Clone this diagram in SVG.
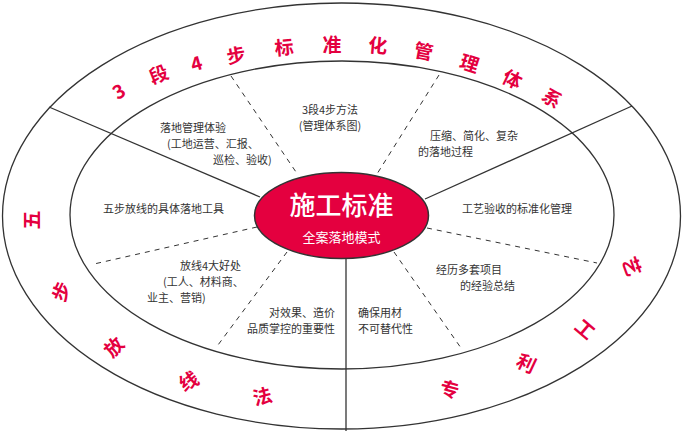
<svg xmlns="http://www.w3.org/2000/svg" width="683" height="431" viewBox="0 0 683 431">
<style>
.ln{stroke:#333;stroke-width:1.3;fill:none}
.ds{stroke:#333;stroke-width:1;fill:none;stroke-dasharray:5 5}
.t{font-family:"Noto Sans CJK SC","Noto Sans",sans-serif;font-size:11px;fill:#333}
.p{font-family:"Noto Sans CJK SC","Noto Sans",sans-serif;font-size:19px;font-weight:bold;fill:#e4003f;text-anchor:middle;dominant-baseline:central}
</style>
<rect width="683" height="431" fill="#fff"/>
<g id="rings">
<ellipse class="ln" cx="341.5" cy="216" rx="339" ry="213"/>
<ellipse class="ln" cx="342" cy="215" rx="272" ry="154"/>
</g>
<g id="connectors">
<line class="ln" x1="49" y1="107" x2="260" y2="197"/>
<line class="ln" x1="632" y1="106" x2="425" y2="199"/>
<line class="ln" x1="346" y1="259" x2="346" y2="431"/>
<line class="ds" x1="231" y1="76" x2="296" y2="172"/>
<line class="ds" x1="439" y1="75" x2="377" y2="174"/>
<line class="ds" x1="257" y1="227" x2="94" y2="264"/>
<line class="ds" x1="427" y1="228" x2="597" y2="263"/>
<line class="ds" x1="287" y1="252" x2="218" y2="345"/>
<line class="ds" x1="394" y1="252" x2="461" y2="348"/>
</g>
<g id="center">
<ellipse cx="341.5" cy="215.5" rx="87" ry="43" fill="#e4003f" stroke="#333" stroke-width="1.5"/>
<text x="341.5" y="215" font-family="'Noto Sans CJK SC',sans-serif" font-size="26" font-weight="500" fill="#fff" text-anchor="middle">施工标准</text>
<text x="341.5" y="242" font-family="'Noto Sans CJK SC',sans-serif" font-size="13" fill="#fff" text-anchor="middle">全案落地模式</text>
</g>
<g id="labels">
<text class="t" x="330" y="114" text-anchor="middle">3段4步方法</text>
<text class="t" x="330" y="130" text-anchor="middle">(管理体系图)</text>
<text class="t" x="160" y="132">落地管理体验</text>
<text class="t" x="167" y="148">(工地运营、汇报、</text>
<text class="t" x="213" y="164">巡检、验收)</text>
<text class="t" x="430" y="140">压缩、简化、复杂</text>
<text class="t" x="418" y="156">的落地过程</text>
<text class="t" x="103" y="213">五步放线的具体落地工具</text>
<text class="t" x="462" y="213">工艺验收的标准化管理</text>
<text class="t" x="180" y="270">放线4大好处</text>
<text class="t" x="163" y="286">(工人、材料商、</text>
<text class="t" x="147" y="302">业主、营销)</text>
<text class="t" x="335" y="317" text-anchor="end">对效果、造价</text>
<text class="t" x="335" y="333" text-anchor="end">品质掌控的重要性</text>
<text class="t" x="358" y="317">确保用材</text>
<text class="t" x="358" y="333">不可替代性</text>
<text class="t" x="436" y="274">经历多套项目</text>
<text class="t" x="460" y="290">的经验总结</text>
</g>
<g id="ring-text">
<text class="p" transform="translate(118,90) rotate(-30)">3</text>
<text class="p" transform="translate(158,73) rotate(-22)">段</text>
<text class="p" transform="translate(196,62) rotate(-16)">4</text>
<text class="p" transform="translate(236,54) rotate(-10)">步</text>
<text class="p" transform="translate(284,46) rotate(-5)">标</text>
<text class="p" transform="translate(332,43) rotate(0)">准</text>
<text class="p" transform="translate(378,44) rotate(5)">化</text>
<text class="p" transform="translate(424,50) rotate(11)">管</text>
<text class="p" transform="translate(470,62) rotate(18)">理</text>
<text class="p" transform="translate(513,78) rotate(26)">体</text>
<text class="p" transform="translate(553,97) rotate(34)">系</text>
<text class="p" transform="translate(30,220) rotate(-90)">五</text>
<text class="p" transform="translate(60,291) rotate(-65)">步</text>
<text class="p" transform="translate(113,346) rotate(-45)">放</text>
<text class="p" transform="translate(188,380) rotate(-30)">线</text>
<text class="p" transform="translate(262,395) rotate(-15)">法</text>
<text class="p" transform="translate(450,388) rotate(15)">专</text>
<text class="p" transform="translate(527,362) rotate(25)">利</text>
<text class="p" transform="translate(586,328) rotate(40)">工</text>
<text class="p" transform="translate(633,266) rotate(70)">艺</text>
</g>
</svg>
